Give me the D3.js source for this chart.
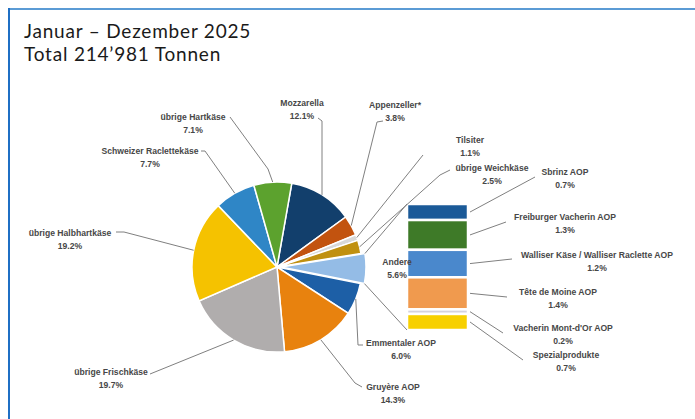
<!DOCTYPE html>
<meta charset="utf-8">
<style>
  body { margin: 0; background: #fff; }
  .title { font-family: Lato, sans-serif; font-size: 19px; letter-spacing: 0.8px; fill: #1a1a1a; }
  .lbl { font-family: "Liberation Sans", Arial, sans-serif; font-size: 8.6px; font-weight: bold; fill: #474747; }
  .leader { fill: none; stroke: #808080; stroke-width: 1px; }
</style>
<body>
<script src="https://d3js.org/d3.v7.min.js"></script>
<script>
  // pie data (percent of total)
  var categories = ["Mozzarella", "Appenzeller*", "Tilsiter", "übrige Weichkäse", "Andere",
    "Emmentaler AOP", "Gruyère AOP", "übrige Frischkäse", "übrige Halbhartkäse",
    "Schweizer Raclettekäse", "übrige Hartkäse"];
  var shares = [12.1, 3.8, 1.1, 2.5, 5.6, 6.0, 14.3, 19.7, 19.2, 7.7, 7.1];
  var pieColors = ["#123f6c", "#c2530f", "#d8d8d8", "#c09010", "#94bce6",
    "#1d5fa6", "#e8820e", "#b0adad", "#f5c200", "#2f86c6", "#5ca22e"];

  // breakdown of "Andere"
  var andereParts = ["Sbrinz AOP", "Freiburger Vacherin AOP", "Walliser Käse / Walliser Raclette AOP",
    "Tête de Moine AOP", "Vacherin Mont-d'Or AOP", "Spezialprodukte"];
  var andereShares = [0.7, 1.3, 1.2, 1.4, 0.2, 0.7];
  var barColors = ["#1b5a98", "#3e7a28", "#4a88cc", "#f09a4e", "#d4d2de", "#f7d000"];

  var titleLines = ["Januar – Dezember 2025", "Total 214’981 Tonnen"];

  // layout: label centre and leader end points
  var pieLabelPos = {
    "Mozzarella": { x: 302, y: 103, path: [[318, 118], [322, 121]] },
    "Appenzeller*": { x: 395, y: 105, path: [[383, 121], [377, 122]] },
    "Tilsiter": { x: 470, y: 140, path: [[423, 155]] },
    "übrige Weichkäse": { x: 492, y: 168, path: [[450, 170], [440, 175]] },
    "Andere": { x: 397, y: 262, path: null },
    "Emmentaler AOP": { x: 401, y: 343, path: [[363, 345], [358, 345]] },
    "Gruyère AOP": { x: 393, y: 387, path: [[362, 387], [355, 383]] },
    "übrige Frischkäse": { x: 111, y: 372, path: [[150, 374]] },
    "übrige Halbhartkäse": { x: 70, y: 233, path: [[116, 232], [124, 232]] },
    "Schweizer Raclettekäse": { x: 150, y: 151, path: [[201, 151], [205, 151]] },
    "übrige Hartkäse": { x: 193, y: 117, path: [[230, 117], [268, 169]] }
  };
  var barLabelPos = [
    { x: 565, y: 172, end: [535, 177] },
    { x: 565, y: 217, end: [506, 222] },
    { x: 597, y: 255, end: [512, 259] },
    { x: 558, y: 292, end: [507, 297] },
    { x: 563, y: 328, end: [503, 333] },
    { x: 566, y: 355, end: [523, 360] }
  ];

  var W = 695, H = 419;
  var cx = 277, cy = 267, r = 85, explode = 4;
  var startDeg = 10;

  var svg = d3.select("body").append("svg")
    .attr("width", W).attr("height", H);

  // frame
  svg.append("line").attr("x1", 9).attr("y1", 9).attr("x2", W).attr("y2", 9)
    .attr("stroke", "#5b9bd5").attr("stroke-width", 2);
  svg.append("line").attr("x1", 9).attr("y1", 8).attr("x2", 9).attr("y2", H)
    .attr("stroke", "#1f6fc4").attr("stroke-width", 2);

  svg.selectAll(".title").data(titleLines).enter().append("text")
    .attr("class", "title")
    .attr("x", 24).attr("y", function (d, i) { return 38 + i * 23; })
    .text(function (d) { return d; });

  var start = startDeg * Math.PI / 180;
  var pie = d3.pie().sort(null).value(function (d) { return d; })
    .startAngle(start).endAngle(start + 2 * Math.PI);
  var arcs = pie(shares);
  var arc = d3.arc().innerRadius(0).outerRadius(r);

  function pt(a, rad) { return [Math.sin(a) * rad, -Math.cos(a) * rad]; }
  function offset(d, i) {
    if (categories[i] !== "Andere") return [0, 0];
    return pt((d.startAngle + d.endAngle) / 2, explode);
  }

  var g = svg.append("g").attr("transform", "translate(" + cx + "," + cy + ")");
  g.selectAll("path.slice").data(arcs).enter().append("path")
    .attr("class", "slice")
    .attr("d", arc)
    .attr("transform", function (d, i) { var o = offset(d, i); return "translate(" + o + ")"; })
    .attr("fill", function (d, i) { return pieColors[i]; })
    .attr("stroke", "#fff").attr("stroke-width", 1.5);

  // bar of "Andere"
  var barX = d3.scaleBand().domain(["Andere"]).range([407, 468]);
  var barTotal = d3.sum(andereShares);
  var barY = d3.scaleLinear().domain([0, barTotal]).range([204, 330]);
  var cum = 0;
  var barData = andereShares.map(function (v, i) {
    var d = { name: andereParts[i], value: v, y0: cum, y1: cum + v };
    cum += v;
    return d;
  });
  svg.selectAll("rect.seg").data(barData).enter().append("rect")
    .attr("class", "seg")
    .attr("x", barX("Andere"))
    .attr("width", barX.bandwidth())
    .attr("y", function (d) { return barY(d.y0); })
    .attr("height", function (d) { return barY(d.y1) - barY(d.y0); })
    .attr("fill", function (d, i) { return barColors[i]; })
    .attr("stroke", "#fff").attr("stroke-width", 2.5);

  // series lines from the exploded slice to the bar
  var aIdx = categories.indexOf("Andere");
  var aArc = arcs[aIdx];
  var o = offset(aArc, aIdx);
  var pTop = pt(aArc.startAngle, r), pBot = pt(aArc.endAngle, r);
  var line = d3.line();
  svg.append("path").attr("class", "leader")
    .attr("d", line([[cx + pTop[0] + o[0], cy + pTop[1] + o[1]], [barX("Andere"), barY(0)]]));
  svg.append("path").attr("class", "leader")
    .attr("d", line([[cx + pBot[0] + o[0], cy + pBot[1] + o[1]], [barX("Andere"), barY(barTotal)]]));

  // pie labels and leaders
  arcs.forEach(function (d, i) {
    var name = categories[i];
    var pos = pieLabelPos[name];
    if (pos.path) {
      var a = pt((d.startAngle + d.endAngle) / 2, r);
      var pts = pos.path.concat([[cx + a[0], cy + a[1]]]);
      svg.append("path").attr("class", "leader").attr("d", line(pts));
    }
    var t = svg.append("text").attr("class", "lbl")
      .attr("text-anchor", "middle").attr("dominant-baseline", "central");
    t.append("tspan").attr("x", pos.x).attr("y", pos.y).text(name);
    t.append("tspan").attr("x", pos.x).attr("y", pos.y + 13)
      .text(d3.format(".1f")(shares[i]) + "%");
  });

  // bar labels and leaders
  barData.forEach(function (d, i) {
    var pos = barLabelPos[i];
    var ym = (barY(d.y0) + barY(d.y1)) / 2;
    svg.append("path").attr("class", "leader")
      .attr("d", line([[barX("Andere") + barX.bandwidth() + 2, ym], pos.end]));
    var t = svg.append("text").attr("class", "lbl")
      .attr("text-anchor", "middle").attr("dominant-baseline", "central");
    t.append("tspan").attr("x", pos.x).attr("y", pos.y).text(d.name);
    t.append("tspan").attr("x", pos.x).attr("y", pos.y + 12.5)
      .text(d3.format(".1f")(d.value) + "%");
  });
</script>
</body>
